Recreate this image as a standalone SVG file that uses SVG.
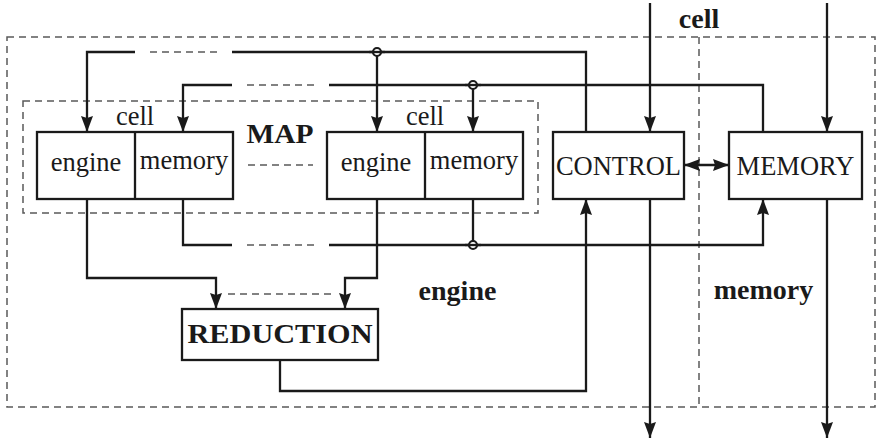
<svg xmlns="http://www.w3.org/2000/svg" width="877" height="441" viewBox="0 0 877 441">
  <style>
    .frame { fill: none; stroke: #5a5a5a; stroke-width: 1.5; stroke-dasharray: 7 5; }
    .box { fill: #ffffff; stroke: #1a1a1a; stroke-width: 2.3; }
    .wire { fill: none; stroke: #1a1a1a; stroke-width: 2.3; }
    .gap { fill: none; stroke: #5a5a5a; stroke-width: 1.5; stroke-dasharray: 7 5; }
    .arrow { marker-end: url(#head); }
    .dot { fill: #ffffff; stroke: #1a1a1a; stroke-width: 2.2; }
    text { font-family: "Liberation Serif", "Times New Roman", serif; fill: #1a1a1a; text-anchor: middle; }
    .lbl { font-size: 26.5px; }
    .bold { font-size: 28px; font-weight: bold; }
  </style>
  <defs>
    <marker id="head" viewBox="0 0 16 12" refX="16" refY="6" markerWidth="16" markerHeight="12" markerUnits="userSpaceOnUse" orient="auto-start-reverse">
      <path d="M0,0 L16,6 L0,12 L2,6 z" fill="#1a1a1a"/>
    </marker>
  </defs>

  <!-- enclosing regions -->
  <g id="regions">
    <rect class="frame" x="7" y="37" width="868" height="370"/>
    <line class="frame" x1="699" y1="37" x2="699" y2="407"/>
    <rect class="frame" x="23" y="101" width="515" height="112"/>
    <text class="bold" x="699" y="28">cell</text>
    <text class="bold" x="280" y="143" textLength="67" lengthAdjust="spacingAndGlyphs">MAP</text>
    <text class="bold" x="457.5" y="300">engine</text>
    <text class="bold" x="763.5" y="299">memory</text>
  </g>

  <!-- connectors -->
  <g id="connectors">
    <!-- broadcast line to engines -->
    <polyline class="wire arrow" points="135,52 87,52 87,132"/>
    <line class="gap" x1="150" y1="52" x2="218" y2="52"/>
    <polyline class="wire" points="232,52 586,52 586,132"/>
    <line class="wire arrow" x1="377" y1="52" x2="377" y2="132"/>
    <!-- broadcast line to memories -->
    <polyline class="wire arrow" points="232,85 183,85 183,132"/>
    <line class="gap" x1="247" y1="85" x2="318" y2="85"/>
    <polyline class="wire" points="329,85 763,85 763,132"/>
    <line class="wire arrow" x1="473" y1="85" x2="473" y2="132"/>
    <!-- memory results back to MEMORY -->
    <polyline class="wire" points="183,199 183,245 232,245"/>
    <line class="gap" x1="247" y1="245" x2="318" y2="245"/>
    <polyline class="wire arrow" points="329,245 763,245 763,199"/>
    <line class="wire" x1="473" y1="199" x2="473" y2="245"/>
    <!-- engine results into REDUCTION -->
    <polyline class="wire arrow" points="87,199 87,278 216,278 216,309"/>
    <polyline class="wire arrow" points="377,199 377,278 345,278 345,309"/>
    <line class="gap" x1="228" y1="294" x2="336" y2="294"/>
    <!-- REDUCTION to CONTROL -->
    <polyline class="wire arrow" points="280,360 280,391 586,391 586,199"/>
    <!-- external inputs / outputs -->
    <line class="wire arrow" x1="650" y1="3" x2="650" y2="132"/>
    <line class="wire arrow" x1="827" y1="3" x2="827" y2="132"/>
    <line class="wire arrow" x1="650" y1="199" x2="650" y2="438"/>
    <line class="wire arrow" x1="827" y1="199" x2="827" y2="438"/>
    <!-- CONTROL <-> MEMORY -->
    <line class="wire" x1="684" y1="165" x2="729" y2="165" marker-start="url(#head)" marker-end="url(#head)"/>
    <!-- junctions -->
    <circle class="dot" cx="377" cy="52" r="4"/>
    <circle class="dot" cx="473" cy="85" r="4"/>
    <circle class="dot" cx="473" cy="245" r="4"/>
    <line class="wire" x1="369" y1="52" x2="385" y2="52" stroke-width="1.6"/>
    <line class="wire" x1="465" y1="85" x2="481" y2="85" stroke-width="1.6"/>
    <line class="wire" x1="465" y1="245" x2="481" y2="245" stroke-width="1.6"/>
    <line class="gap" x1="248" y1="165" x2="313" y2="165"/>
  </g>

  <!-- first cell -->
  <g id="cell-1">
    <rect class="box" x="37" y="132" width="196" height="67"/>
    <line class="wire" x1="135" y1="132" x2="135" y2="199"/>
    <text class="lbl" x="135" y="125">cell</text>
    <text class="lbl" x="86" y="171">engine</text>
    <text class="lbl" x="184" y="169">memory</text>
  </g>

  <!-- last cell -->
  <g id="cell-n">
    <rect class="box" x="327" y="132" width="196" height="67"/>
    <line class="wire" x1="425" y1="132" x2="425" y2="199"/>
    <text class="lbl" x="425" y="125">cell</text>
    <text class="lbl" x="376" y="171">engine</text>
    <text class="lbl" x="474" y="169">memory</text>
  </g>

  <g id="control">
    <rect class="box" x="553" y="132" width="131" height="67"/>
    <text class="lbl" x="618.5" y="175">CONTROL</text>
  </g>

  <g id="memory">
    <rect class="box" x="729" y="132" width="133" height="67"/>
    <text class="lbl" x="795.5" y="175">MEMORY</text>
  </g>

  <g id="reduction">
    <rect class="box" x="182" y="309" width="196" height="51"/>
    <text class="bold" x="280" y="343" textLength="185" lengthAdjust="spacingAndGlyphs">REDUCTION</text>
  </g>
</svg>
